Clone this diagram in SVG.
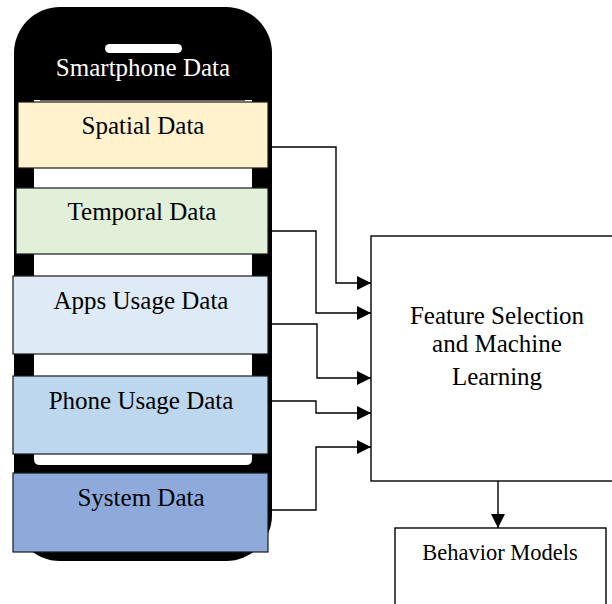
<svg xmlns="http://www.w3.org/2000/svg" width="612" height="604" viewBox="0 0 612 604">
<style>
.t{font-family:"Liberation Serif","Times New Roman",serif;font-size:25px;fill:#000;text-anchor:middle}
.box{stroke:#1a1a1a;stroke-width:1.2}
.line{fill:none;stroke:#000;stroke-width:1.4}
</style>
<defs>
<marker id="ah" viewBox="0 0 14 14" refX="14" refY="7" markerWidth="14" markerHeight="14" markerUnits="userSpaceOnUse" orient="auto">
<path d="M0,0 L14,7 L0,14 z" fill="#000"/>
</marker>
</defs>
<rect width="612" height="604" fill="#fff"/>
<g id="phone">
<rect x="14" y="7" width="258" height="554" rx="46" ry="46" fill="#000"/>
<rect x="105" y="44" width="77" height="9" rx="4.5" fill="#fff"/>
<path d="M34,100 H252 V459 Q252,465 246,465 H40 Q34,465 34,459 Z" fill="#fff"/>
<line x1="40" y1="100.5" x2="245" y2="100.5" stroke="#666" stroke-width="1"/>
<text class="t" x="143" y="76" style="fill:#fff">Smartphone Data</text>
</g>
<g id="spatial">
<rect class="box" x="18" y="102" width="250" height="66" fill="#FFF2CC"/>
<text class="t" x="143" y="134">Spatial Data</text>
</g>
<g id="temporal">
<rect class="box" x="16" y="188" width="252" height="66" fill="#E2EFD9"/>
<text class="t" x="142" y="220">Temporal Data</text>
</g>
<g id="apps">
<rect class="box" x="13" y="276" width="255" height="78" fill="#DEEAF6"/>
<text class="t" x="141" y="309">Apps Usage Data</text>
</g>
<g id="phoneusage">
<rect class="box" x="13" y="376" width="255" height="78" fill="#BDD7EE"/>
<text class="t" x="141" y="409">Phone Usage Data</text>
</g>
<g id="system">
<rect class="box" x="13" y="473" width="255" height="79" fill="#8EAADB"/>
<text class="t" x="141" y="506">System Data</text>
</g>
<g id="feature">
<rect x="371" y="236" width="260" height="245" fill="#fff" stroke="#000" stroke-width="1.4"/>
<text class="t" x="497" y="324">Feature Selection</text>
<text class="t" x="497" y="352">and Machine</text>
<text class="t" x="497" y="385">Learning</text>
</g>
<g id="behavior">
<rect x="395" y="528" width="211" height="90" fill="#fff" stroke="#000" stroke-width="1.4"/>
<text class="t" x="500" y="560" style="font-size:22.5px">Behavior Models</text>
</g>
<g id="connectors">
<path class="line" d="M268,147 H336 V283 H371" marker-end="url(#ah)"/>
<path class="line" d="M268,231 H316 V313 H371" marker-end="url(#ah)"/>
<path class="line" d="M268,324 H317 V378 H371" marker-end="url(#ah)"/>
<path class="line" d="M268,401 H316 V413 H371" marker-end="url(#ah)"/>
<path class="line" d="M268,510 H316 V447 H371" marker-end="url(#ah)"/>
<path class="line" d="M498,481 V528" marker-end="url(#ah)"/>
</g>
</svg>
